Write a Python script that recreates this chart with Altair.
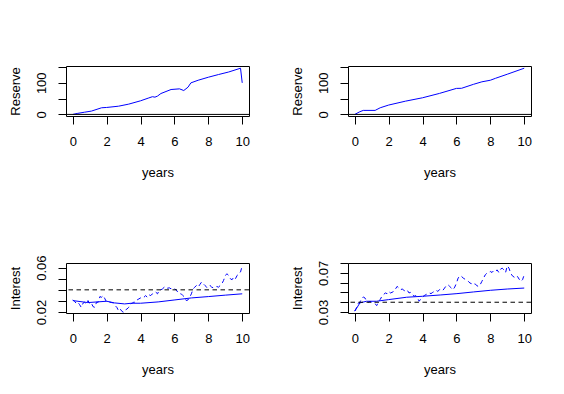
import altair as alt
import pandas as pd

# ---------------- data ----------------
# Reserve, left panel
res_left_t = [0, 0.26, 0.7, 1.1, 1.7, 2.0, 2.7, 3.3, 4.0, 4.45, 4.7, 4.85, 5.0, 5.2, 5.8,
              6.3, 6.55, 6.8, 6.97, 7.4, 8.0, 8.6, 9.2, 9.9, 10.0]
res_left_v = [0, 3, 7, 10.5, 21, 22, 26, 32.5, 43, 51.4, 56, 54.5, 58, 66, 78.7,
              80.8, 75.5, 86, 99.7, 108, 117.5, 126, 134, 146, 99.7]

# Reserve, right panel
res_right_t = [0, 0.3, 0.5, 1.2, 1.5, 2, 3, 4, 5, 6, 6.3, 7, 7.5, 8, 8.3, 9, 10]
res_right_v = [0, 8.5, 12.7, 12.7, 21, 29.6, 42, 52.6, 66.4, 82.2, 82.5, 95, 103, 108, 114, 127, 146]

# Interest path sampled every 0.1 year
rate_t = [round(0.1 * k, 1) for k in range(101)]

rate_left = [
    0.0309, 0.0297, 0.0279, 0.0288, 0.0267, 0.0242, 0.0279, 0.0288, 0.0273, 0.0303,
    0.0273, 0.0279, 0.0248, 0.0242, 0.0288, 0.0288, 0.0339, 0.0333, 0.0348, 0.0318,
    0.0288, 0.0291, 0.0288, 0.0285, 0.0282, 0.0258, 0.0242, 0.0212, 0.0227, 0.0206,
    0.0197, 0.0218, 0.0227, 0.0242, 0.0273, 0.0279, 0.0288, 0.0288, 0.0309, 0.0318,
    0.0327, 0.0339, 0.0333, 0.0348, 0.0333, 0.0355, 0.0348, 0.0364, 0.0364, 0.0379,
    0.0364, 0.0394, 0.0400, 0.0409, 0.0424, 0.0409, 0.0415, 0.0418, 0.0409, 0.0415,
    0.0409, 0.0400, 0.0379, 0.0364, 0.0364, 0.0348, 0.0333, 0.0303, 0.0309, 0.0333,
    0.0364, 0.0409, 0.0424, 0.0439, 0.0424, 0.0448, 0.0470, 0.0455, 0.0439, 0.0424,
    0.0418, 0.0439, 0.0424, 0.0418, 0.0424, 0.0430, 0.0424, 0.0439, 0.0455, 0.0485,
    0.0530, 0.0545, 0.0530, 0.0500, 0.0491, 0.0515, 0.0500, 0.0530, 0.0545, 0.0561,
    0.0618]

rate_right = [
    0.0309, 0.0343, 0.0390, 0.0400, 0.0434, 0.0454, 0.0444, 0.0410, 0.0400, 0.0410,
    0.0400, 0.0393, 0.0383, 0.0366, 0.0410, 0.0427, 0.0461, 0.0478, 0.0495, 0.0488,
    0.0511, 0.0495, 0.0501, 0.0511, 0.0535, 0.0562, 0.0545, 0.0528, 0.0535, 0.0522,
    0.0511, 0.0522, 0.0495, 0.0501, 0.0478, 0.0461, 0.0468, 0.0444, 0.0410, 0.0434,
    0.0454, 0.0468, 0.0478, 0.0488, 0.0495, 0.0488, 0.0501, 0.0511, 0.0522, 0.0511,
    0.0528, 0.0535, 0.0522, 0.0545, 0.0569, 0.0579, 0.0562, 0.0545, 0.0528, 0.0555,
    0.0596, 0.0647, 0.0670, 0.0664, 0.0647, 0.0636, 0.0623, 0.0613, 0.0596, 0.0589,
    0.0579, 0.0589, 0.0569, 0.0562, 0.0579, 0.0613, 0.0647, 0.0680, 0.0697, 0.0704,
    0.0714, 0.0704, 0.0724, 0.0714, 0.0731, 0.0704, 0.0738, 0.0748, 0.0731, 0.0704,
    0.0772, 0.0748, 0.0697, 0.0670, 0.0657, 0.0647, 0.0664, 0.0636, 0.0613, 0.0630,
    0.0680]

# Average (solid) lines
avg_left_t = [0, 0.89, 2.0, 2.47, 3.06, 3.46, 4.0, 5.04, 6.03, 7.0, 8.0, 9.0, 10.0]
avg_left_v = [0.0303, 0.0285, 0.0297, 0.0282, 0.0273, 0.0279, 0.0279, 0.0291, 0.0309,
              0.0327, 0.0339, 0.0352, 0.0364]
avg_right_t = [0, 0.15, 0.3, 0.69, 1.28, 2.0, 3.06, 4.0, 5.04, 6.03, 7.0, 8.0, 9.0, 10.0]
avg_right_v = [0.031, 0.035, 0.0393, 0.041, 0.041, 0.0427, 0.0451, 0.0461, 0.0474,
               0.0488, 0.0505, 0.0522, 0.0535, 0.0545]

ref_level = [0.04]
zero_level = [0]

x_ticks = [0, 2, 4, 6, 8, 10]

FONT = "Liberation Sans, Arial, sans-serif"
W, H = 183, 50

xscale = alt.Scale(domain=[-0.4, 10.4], nice=False, zero=False)
xaxis = alt.Axis(title="years", values=x_ticks, format="d", labelAngle=0,
                 labelBaseline="alphabetic", labelPadding=21.5, tickSize=8,
                 titleY=60.5, titleBaseline="alphabetic", titleAlign="center",
                 labelFlush=False, labelOverlap=False, grid=False, domain=False,
                 tickColor="black", labelColor="black", labelFont=FONT,
                 labelFontSize=13, titleColor="black", titleFont=FONT,
                 titleFontSize=13, titleFontWeight="normal")


def yaxis(title, values, shown, fmt):
    shown_list = ",".join("'%s'" % s for s in shown)
    return alt.Axis(title=title, values=values, format=fmt,
                    labelExpr="indexof([%s], datum.label) >= 0 ? datum.label : ''" % shown_list,
                    labelAngle=270, labelAlign="center", labelBaseline="alphabetic",
                    labelPadding=12.3, tickSize=8, labelOverlap=False, labelFlush=False,
                    titleAngle=270, titleX=-47, titleAlign="center",
                    titleBaseline="alphabetic", grid=False, domain=False,
                    tickColor="black", labelColor="black", labelFont=FONT,
                    labelFontSize=13, titleColor="black", titleFont=FONT,
                    titleFontSize=13, titleFontWeight="normal")


def reserve_panel(t, v, ydom):
    ysc = alt.Scale(domain=ydom, nice=False, zero=False)
    ya = yaxis("Reserve", [0, 50, 100, 150], ["0", "100"], "d")
    df = pd.DataFrame({"t": t, "v": v})
    line = alt.Chart(df).mark_line(color="#0000FF", strokeWidth=1).encode(
        x=alt.X("t:Q", scale=xscale, axis=xaxis),
        y=alt.Y("v:Q", scale=ysc, axis=ya))
    rule = alt.Chart(pd.DataFrame({"v": zero_level})).mark_rule(
        color="black", strokeWidth=1).encode(y=alt.Y("v:Q", scale=ysc, axis=ya))
    return alt.layer(line, rule).properties(width=W, height=H)


def interest_panel(rate, at, av, ydom, yticks, shown):
    ysc = alt.Scale(domain=ydom, nice=False, zero=False)
    ya = yaxis("Interest", yticks, shown, ".2f")
    df = pd.DataFrame({"t": rate_t, "v": rate})
    dfa = pd.DataFrame({"t": at, "v": av})
    path = alt.Chart(df).mark_line(color="#0000FF", strokeWidth=1,
                                   strokeDash=[4.5, 3.5]).encode(
        x=alt.X("t:Q", scale=xscale, axis=xaxis),
        y=alt.Y("v:Q", scale=ysc, axis=ya))
    avg = alt.Chart(dfa).mark_line(color="#0000FF", strokeWidth=1).encode(
        x=alt.X("t:Q", scale=xscale, axis=xaxis),
        y=alt.Y("v:Q", scale=ysc, axis=ya))
    rule = alt.Chart(pd.DataFrame({"v": ref_level})).mark_rule(
        color="black", strokeWidth=1, strokeDash=[4.5, 3.5]).encode(
        y=alt.Y("v:Q", scale=ysc, axis=ya))
    return alt.layer(path, avg, rule).properties(width=W, height=H)


tl = reserve_panel(res_left_t, res_left_v, [-5, 153])
tr = reserve_panel(res_right_t, res_right_v, [-5, 153])
bl = interest_panel(rate_left, avg_left_t, avg_left_v, [0.0191, 0.0642],
                    [0.02, 0.03, 0.04, 0.05, 0.06], ["0.02", "0.06"])
br = interest_panel(rate_right, avg_right_t, avg_right_v, [0.029, 0.0801],
                    [0.03, 0.04, 0.05, 0.06, 0.07, 0.08], ["0.03", "0.07"])

chart = alt.concat(tl, tr, bl, br, columns=2).properties(
    spacing={"row": 147, "column": 99},
    bounds="flush",
    padding={"left": 0, "top": 57, "right": 5, "bottom": 5},
    background="white",
).configure_view(stroke="black", strokeWidth=1).configure_axis(
    grid=False, domain=False, tickColor="black", tickWidth=1,
    labelColor="black", labelFont=FONT, labelFontSize=13,
    titleColor="black", titleFont=FONT, titleFontSize=13, titleFontWeight="normal",
)

chart.save("out.html", embed_options={"renderer": "svg", "actions": False})
